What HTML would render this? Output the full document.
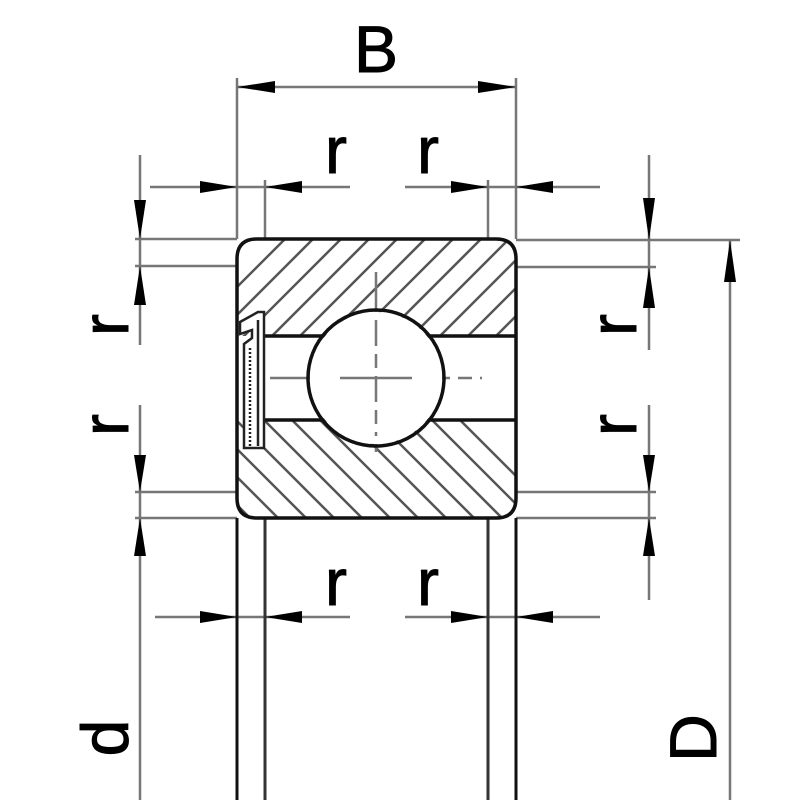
<!DOCTYPE html>
<html><head><meta charset="utf-8"><style>html,body{margin:0;padding:0;background:#fff}svg{display:block}</style></head>
<body>
<svg width="800" height="800" viewBox="0 0 800 800" xmlns="http://www.w3.org/2000/svg">
<defs>
<clipPath id="outer"><path d="M257,239 H496 Q516,239 516,259 V336 H237 V259 Q237,239 257,239 Z"/></clipPath>
<clipPath id="inner"><path d="M237,420 H516 V498 Q516,518 496,518 H257 Q237,518 237,498 Z"/></clipPath>
</defs>
<rect width="800" height="800" fill="#fff"/>
<g stroke="#555" stroke-width="2.5" fill="none">
<g clip-path="url(#outer)">
<line x1="180" y1="400" x2="380" y2="200"/><line x1="208" y1="400" x2="408" y2="200"/>
<line x1="236" y1="400" x2="436" y2="200"/><line x1="264" y1="400" x2="464" y2="200"/>
<line x1="292" y1="400" x2="492" y2="200"/><line x1="320" y1="400" x2="520" y2="200"/>
<line x1="348" y1="400" x2="548" y2="200"/><line x1="376" y1="400" x2="576" y2="200"/>
<line x1="404" y1="400" x2="604" y2="200"/><line x1="432" y1="400" x2="632" y2="200"/>
<line x1="460" y1="400" x2="660" y2="200"/><line x1="152" y1="400" x2="352" y2="200"/>
<line x1="124" y1="400" x2="324" y2="200"/>
</g>
<g clip-path="url(#inner)">
<line x1="140" y1="380" x2="340" y2="580"/><line x1="168" y1="380" x2="368" y2="580"/>
<line x1="196" y1="380" x2="396" y2="580"/><line x1="224" y1="380" x2="424" y2="580"/>
<line x1="252" y1="380" x2="452" y2="580"/><line x1="280" y1="380" x2="480" y2="580"/>
<line x1="308" y1="380" x2="508" y2="580"/><line x1="336" y1="380" x2="536" y2="580"/>
<line x1="364" y1="380" x2="564" y2="580"/><line x1="392" y1="380" x2="592" y2="580"/>
<line x1="420" y1="380" x2="620" y2="580"/><line x1="112" y1="380" x2="312" y2="580"/>
</g>
</g>
<g stroke="#777" stroke-width="2.5" fill="none">
<line x1="237" y1="78" x2="237" y2="239"/><line x1="516" y1="78" x2="516" y2="239"/>
<line x1="265" y1="180" x2="265" y2="239"/><line x1="488" y1="180" x2="488" y2="239"/>
<line x1="135" y1="239" x2="237" y2="239"/><line x1="135" y1="266" x2="237" y2="266"/>
<line x1="135" y1="492" x2="237" y2="492"/><line x1="135" y1="518" x2="237" y2="518"/>
<line x1="516" y1="240" x2="740" y2="240"/><line x1="516" y1="267" x2="656" y2="267"/>
<line x1="516" y1="492" x2="656" y2="492"/><line x1="516" y1="518" x2="656" y2="518"/>
<line x1="237" y1="87" x2="516" y2="87"/>
<line x1="150" y1="187" x2="350" y2="187"/><line x1="405" y1="187" x2="600" y2="187"/>
<line x1="155" y1="617" x2="350" y2="617"/><line x1="405" y1="617" x2="600" y2="617"/>
<line x1="140" y1="155" x2="140" y2="345"/><line x1="140" y1="405" x2="140" y2="800"/>
<line x1="649" y1="155" x2="649" y2="350"/><line x1="649" y1="405" x2="649" y2="600"/>
<line x1="730" y1="240" x2="730" y2="800"/>
<line x1="376" y1="272" x2="376" y2="460" stroke-dasharray="40 8 14 8"/>
<line x1="270" y1="378" x2="482" y2="378" stroke-dasharray="40 8 14 8"/>
</g>
<g stroke="#111" stroke-width="3">
<line x1="237" y1="518" x2="237" y2="800"/><line x1="516" y1="518" x2="516" y2="800"/>
</g>
<g stroke="#333" stroke-width="3">
<line x1="265" y1="518" x2="265" y2="800"/><line x1="488" y1="518" x2="488" y2="800"/>
</g>
<g stroke="#111" stroke-width="3.5" fill="none">
<path d="M257,239 H496 Q516,239 516,259 V498 Q516,518 496,518 H257 Q237,518 237,498 V259 Q237,239 257,239 Z"/>
<line x1="265" y1="336" x2="516" y2="336"/>
<line x1="265" y1="420" x2="516" y2="420"/>
</g>
<circle cx="376" cy="378" r="66" fill="#fff"/>
<g stroke="#777" stroke-width="2.5">
<line x1="376" y1="320" x2="376" y2="436" stroke-dasharray="26 8 14 8"/>
<line x1="340" y1="378" x2="412" y2="378"/>
</g>
<circle cx="376" cy="378" r="68" fill="none" stroke="#111" stroke-width="3.5"/>
<rect x="240" y="337" width="24" height="82" fill="#fff"/>
<g stroke="#222" stroke-width="2.5" fill="#fff">
<path d="M240,322 L258,312 H264 V448 H244 V344 L252,338 V330 L240,334 Z"/>
<line x1="250" y1="348" x2="250" y2="446" stroke-dasharray="2 2"/>
<line x1="258" y1="320" x2="258" y2="446"/>
</g>
<g fill="#000">
<polygon points="237,87 275,81 275,93"/><polygon points="516,87 478,81 478,93"/>
<polygon points="237,187 200,181 200,193"/><polygon points="265,187 302,181 302,193"/>
<polygon points="488,187 451,181 451,193"/><polygon points="516,187 553,181 553,193"/>
<polygon points="237,617 200,611 200,623"/><polygon points="265,617 302,611 302,623"/>
<polygon points="488,617 451,611 451,623"/><polygon points="516,617 553,611 553,623"/>
<polygon points="140,239 134,200 146,200"/><polygon points="140,266 134,305 146,305"/>
<polygon points="140,492 134,455 146,455"/><polygon points="140,518 134,556 146,556"/>
<polygon points="649,240 643,198 655,198"/><polygon points="649,267 643,308 655,308"/>
<polygon points="649,492 643,455 655,455"/><polygon points="649,518 643,556 655,556"/>
<polygon points="730,240 724,282 736,282"/>
</g>
<g font-family="Liberation Sans, sans-serif" fill="#000" font-size="66" stroke="#000" stroke-width="1">
<text x="376" y="72" text-anchor="middle">B</text>
<text x="336" y="173" text-anchor="middle">r</text>
<text x="428" y="173" text-anchor="middle">r</text>
<text x="336" y="605" text-anchor="middle">r</text>
<text x="428" y="605" text-anchor="middle">r</text>
<text transform="translate(128,325) rotate(-90)" text-anchor="middle">r</text>
<text transform="translate(128,425) rotate(-90)" text-anchor="middle">r</text>
<text transform="translate(636,325) rotate(-90)" text-anchor="middle">r</text>
<text transform="translate(636,425) rotate(-90)" text-anchor="middle">r</text>
<text transform="translate(128,738) rotate(-90)" text-anchor="middle">d</text>
<text transform="translate(716,738) rotate(-90)" text-anchor="middle">D</text>
</g>
</svg>
</body></html>
